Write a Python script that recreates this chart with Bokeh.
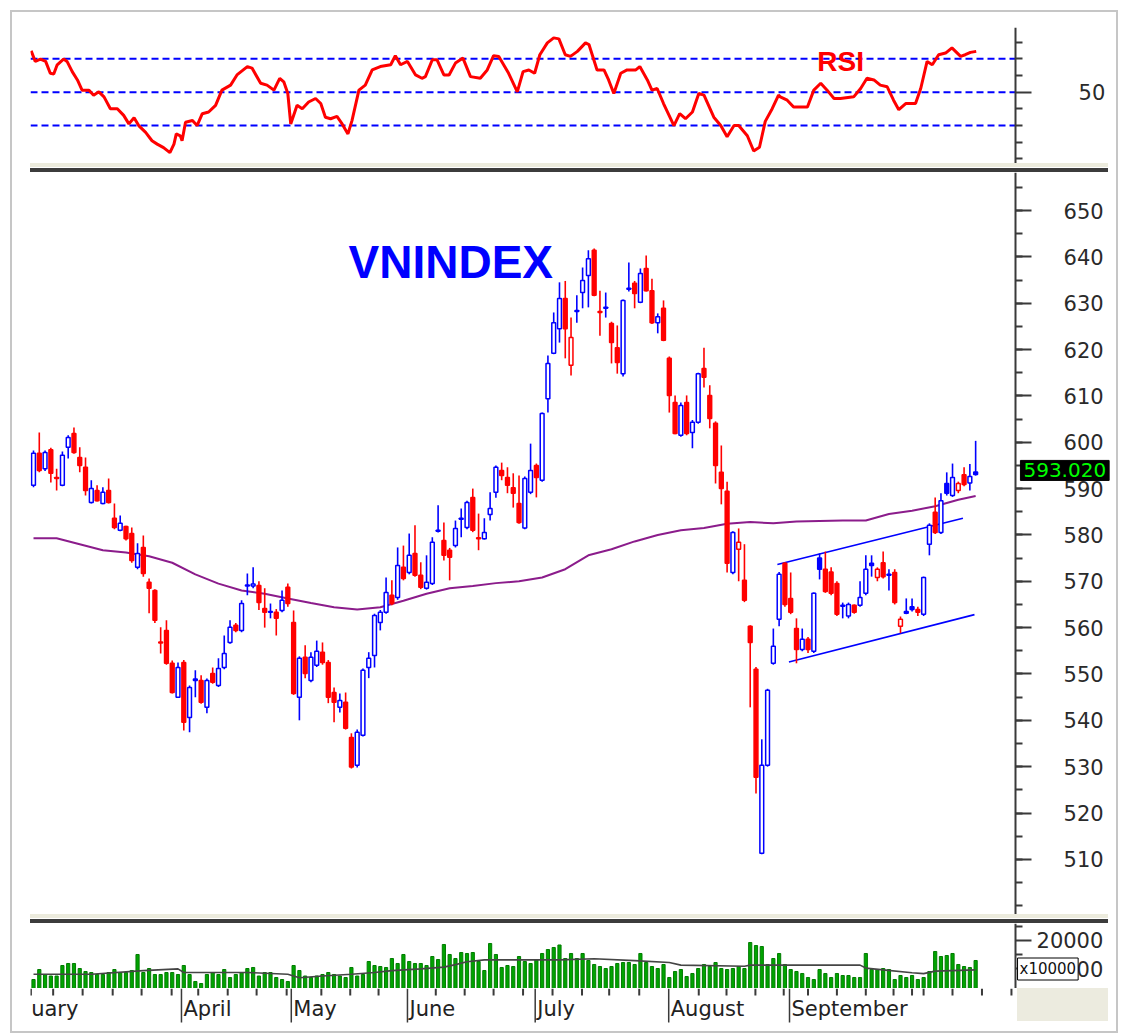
import numpy as np
from bokeh.plotting import figure
from bokeh.models import Range1d, FixedTicker, Label, Div, LinearAxis
from bokeh.layouts import column, row
from bokeh.embed import file_html
from bokeh.resources import INLINE
from bokeh.core.properties import value

# ---------------- data ----------------
opens = [
    590.7, 597.6, 594.3, 598.4, 592.4, 590.7, 598.9, 601.9, 596.7, 594.6,
    587.0, 589.6, 586.8, 589.6, 583.6, 581.0, 581.8, 580.3, 573.0, 577.3,
    569.8, 568.0, 556.9, 559.4, 552.3, 545.0, 552.5, 540.6, 548.6, 548.6,
    542.8, 550.1, 547.5, 551.4, 556.8, 560.5, 559.4, 569.0, 569.0, 569.1,
    564.1, 563.3, 563.3, 563.7, 568.7, 561.1, 545.0, 553.6, 548.6, 551.9,
    554.7, 552.5, 546.0, 542.8, 543.9, 536.3, 530.3, 536.8, 551.4, 554.0,
    561.1, 563.3, 567.0, 566.5, 573.0, 571.9, 576.0, 571.3, 568.5, 569.5,
    580.8, 578.8, 576.7, 577.7, 583.4, 581.6, 588.1, 579.4, 579.2, 584.4,
    589.2, 593.9, 592.4, 590.2, 586.8, 581.5, 589.2, 595.0, 591.8, 609.4,
    619.2, 624.5, 631.0, 616.6, 628.2, 632.3, 636.0, 641.4, 628.2, 628.9,
    625.6, 620.4, 614.8, 633.0, 634.3, 630.2, 637.5, 632.7, 625.8, 628.9,
    618.1, 608.6, 601.5, 608.6, 602.1, 604.3, 615.9, 610.1, 604.1, 593.5,
    589.4, 571.9, 576.9, 570.2, 560.3, 551.0, 511.3, 530.3, 552.3, 561.8,
    573.9, 566.3, 559.8, 555.3, 557.5, 554.9, 575.0, 572.6, 572.0, 569.5,
    564.6, 562.5, 564.8, 564.8, 567.4, 573.9, 570.8, 574.0, 571.3, 571.9,
    560.3, 563.5, 564.5, 563.9, 562.9, 578.0, 584.9, 580.5, 591.1, 588.5,
    589.6, 593.0, 591.2, 593.6]
highs = [
    598.2, 602.1, 598.2, 598.8, 594.3, 598.0, 601.5, 603.2, 598.9, 596.7,
    591.8, 590.7, 590.3, 592.2, 586.8, 584.2, 582.0, 581.6, 578.2, 579.9,
    570.6, 568.3, 560.1, 561.6, 552.9, 552.5, 553.0, 547.5, 550.8, 549.7,
    549.0, 551.4, 553.4, 558.3, 561.6, 561.0, 565.9, 571.7, 573.0, 570.0,
    568.5, 565.2, 564.0, 568.0, 569.5, 563.7, 553.8, 556.2, 554.7, 557.2,
    556.8, 553.0, 547.1, 545.8, 546.0, 537.2, 538.0, 551.2, 554.7, 563.0,
    563.8, 570.8, 570.2, 577.3, 577.7, 580.3, 582.1, 574.1, 575.6, 579.5,
    586.4, 582.7, 577.2, 583.1, 585.7, 587.4, 590.0, 584.6, 583.6, 589.2,
    595.0, 595.6, 594.6, 593.3, 592.8, 592.6, 599.7, 595.4, 606.4, 618.7,
    628.0, 634.5, 634.8, 626.9, 631.7, 637.7, 641.4, 641.8, 632.7, 632.3,
    626.0, 625.2, 630.8, 638.8, 634.8, 637.5, 640.3, 635.3, 627.8, 630.6,
    618.5, 610.1, 608.6, 610.1, 604.8, 615.0, 620.4, 612.3, 604.5, 599.3,
    591.5, 580.8, 581.4, 578.0, 560.5, 551.5, 535.9, 546.8, 559.8, 572.0,
    574.1, 571.9, 562.0, 559.8, 558.0, 567.6, 576.0, 576.4, 573.0, 570.0,
    565.4, 565.4, 565.0, 570.0, 575.6, 575.6, 573.0, 576.4, 572.6, 572.6,
    562.4, 566.3, 566.3, 564.5, 571.0, 582.5, 588.1, 589.0, 593.5, 595.4,
    591.5, 594.6, 595.3, 600.3]
lows = [
    590.3, 593.5, 593.8, 591.3, 589.6, 590.5, 596.5, 597.5, 593.5, 588.5,
    586.8, 587.2, 586.6, 586.8, 581.2, 580.8, 578.8, 574.0, 572.6, 571.0,
    563.1, 561.0, 554.4, 552.0, 545.8, 544.8, 537.8, 537.4, 545.0, 543.6,
    541.5, 547.9, 547.2, 551.0, 556.5, 559.0, 559.0, 567.0, 568.5, 563.8,
    560.0, 562.0, 558.3, 563.3, 564.5, 545.5, 540.0, 549.1, 548.2, 551.5,
    552.0, 543.7, 539.6, 541.7, 538.0, 529.6, 529.8, 536.5, 549.1, 551.4,
    559.4, 563.0, 564.8, 566.0, 570.2, 571.5, 571.0, 568.3, 568.2, 569.2,
    580.5, 574.5, 570.2, 577.3, 579.5, 581.2, 580.6, 576.7, 579.0, 583.1,
    588.0, 591.8, 589.0, 585.9, 582.4, 581.2, 588.8, 588.1, 591.5, 606.4,
    619.0, 621.5, 618.1, 614.4, 625.8, 628.9, 629.1, 631.5, 623.0, 626.9,
    617.0, 614.8, 614.2, 632.5, 628.9, 630.0, 632.5, 625.5, 623.5, 621.8,
    606.4, 601.7, 601.2, 601.5, 598.7, 604.0, 611.8, 603.0, 591.1, 586.6,
    571.9, 571.5, 570.0, 565.5, 542.8, 524.2, 511.1, 530.0, 552.0, 560.3,
    564.5, 562.9, 552.3, 554.9, 554.5, 554.5, 570.4, 567.5, 567.0, 562.5,
    562.0, 562.0, 563.0, 564.5, 567.0, 571.0, 570.0, 570.6, 568.0, 565.0,
    558.8, 562.9, 563.5, 562.5, 562.5, 575.6, 580.2, 580.2, 588.5, 588.2,
    589.0, 590.5, 589.6, 592.8]
closes = [
    597.6, 593.9, 597.8, 593.3, 592.2, 597.2, 601.0, 597.8, 595.0, 589.6,
    590.0, 587.4, 589.2, 587.0, 581.6, 582.5, 579.2, 574.5, 576.0, 571.7,
    568.5, 561.6, 556.7, 552.3, 546.0, 551.4, 539.6, 547.1, 548.9, 543.9,
    548.6, 548.2, 551.2, 554.4, 560.1, 559.4, 565.2, 569.2, 569.4, 565.4,
    563.3, 563.5, 562.0, 565.9, 565.2, 545.8, 553.4, 550.1, 553.6, 554.9,
    552.5, 545.0, 543.9, 544.3, 538.3, 529.9, 537.4, 550.8, 553.4, 562.6,
    563.3, 567.6, 565.2, 573.4, 570.6, 575.6, 571.3, 568.7, 569.8, 578.4,
    581.0, 575.6, 575.2, 581.4, 583.6, 587.0, 581.0, 579.2, 580.5, 585.7,
    594.6, 592.8, 590.7, 589.0, 582.7, 592.2, 593.9, 592.4, 606.2, 617.0,
    625.8, 631.0, 624.5, 622.6, 628.4, 634.9, 639.6, 631.7, 628.0, 629.1,
    621.5, 617.2, 630.6, 633.2, 632.1, 636.4, 632.7, 625.8, 627.1, 622.0,
    610.1, 601.9, 607.9, 601.9, 604.3, 614.8, 614.0, 605.1, 595.0, 590.0,
    573.9, 580.5, 578.4, 565.9, 556.8, 527.7, 530.3, 546.5, 556.0, 571.5,
    565.0, 563.3, 555.3, 557.5, 555.3, 567.4, 572.6, 567.8, 567.4, 562.9,
    564.8, 565.0, 563.3, 566.5, 572.6, 573.4, 572.6, 571.0, 571.5, 565.4,
    561.8, 563.1, 563.9, 563.3, 570.8, 582.1, 580.5, 587.4, 589.0, 592.4,
    591.1, 590.9, 592.6, 593.02]
# volume, in units of 10000 shares as labelled on the axis
volumes = [
    6070, 9640, 7860, 7320, 7320, 11070, 11790, 11790, 10000, 8930,
    8570, 7860, 7860, 8570, 9640, 8570, 8570, 9290, 15000, 8570,
    10000, 7860, 7860, 8570, 8570, 7860, 11070, 7860, 5360, 4650,
    7860, 8570, 7860, 9640, 6790, 7860, 8570, 10000, 10360, 7320,
    8570, 8570, 6790, 6070, 5360, 11070, 9290, 7320, 6790, 7320,
    7860, 8570, 7860, 7320, 6790, 10360, 7320, 7860, 12500, 11070,
    10710, 10360, 13570, 11790, 15000, 12500, 11790, 11790, 11070, 14280,
    13210, 18570, 15000, 13570, 15710, 15360, 15710, 12500, 9290, 18930,
    15000, 10360, 11070, 10710, 14280, 12500, 11790, 13210, 15360, 16780,
    17500, 18390, 13570, 15360, 13570, 15360, 12860, 11430, 10710, 10000,
    10710, 11790, 12140, 12140, 11430, 15360, 12140, 10710, 10000, 11430,
    6790, 8930, 9640, 7140, 8220, 10000, 11430, 10710, 12140, 10000,
    9640, 10000, 10710, 10000, 19280, 18210, 17850, 11430, 13570, 15360,
    11430, 9640, 8930, 8220, 6790, 6070, 9640, 8220, 6790, 8220,
    7500, 7500, 6790, 6790, 15360, 9640, 9640, 10000, 9640, 6070,
    7500, 6790, 7500, 6070, 6790, 8930, 16070, 14280, 14640, 15360,
    11430, 10710, 10360, 12860]

# moving average of the index (purple), read at every 4th session
ma_idx = [0, 4, 8, 12, 16, 20, 24, 28, 32, 36, 40, 44, 48, 52, 56, 60, 64, 68, 72, 76,
          80, 84, 88, 92, 96, 100, 104, 108, 112, 116, 120, 124, 128, 132, 136, 140,
          144, 148, 152, 156, 160, 163]
ma_val = [579.3, 579.3, 578.0, 576.7, 576.2, 575.4, 574.0, 571.5, 569.5, 568.0, 567.3,
          566.3, 565.3, 564.4, 563.9, 564.4, 565.8, 567.3, 568.5, 569.0, 569.6, 570.0,
          570.8, 572.6, 575.6, 576.9, 578.6, 580.0, 581.0, 581.5, 582.4, 582.8, 582.5,
          582.9, 583.0, 583.1, 583.1, 584.5, 585.2, 586.2, 587.6, 588.4]

# volume moving average (dark grey)
vma_idx = [0, 10, 19, 25, 26, 37, 44, 46, 50, 55, 59, 62, 67, 71, 73, 75, 78, 91, 97,
           104, 110, 112, 123, 124, 143, 144, 147, 152, 154, 156, 163]
vma_val = [7970, 7970, 9250, 9860, 8570, 8570, 7970, 6680, 7330, 7970, 8570, 9250,
           9860, 10500, 11390, 12430, 13070, 13070, 13460, 12820, 12150, 11210, 10820,
           11210, 11210, 10150, 9500, 8500, 8180, 9070, 9500]

# RSI line
rsi_idx = [-0.4, 0.3, 1.2, 2.1, 2.9, 3.5, 4.1, 5.2, 5.8, 6.7,
           7.6, 8.4, 9.6, 10.4, 11.3, 12.2, 13.3, 14.5, 15.6, 16.5,
           17.4, 18.2, 19.4, 20.5, 21.4, 22.5, 23.6, 24.3, 24.7, 25.4,
           25.7, 26.3, 27.5, 28.3, 29.2, 30.3, 31.5, 32.6, 34.1, 35.2,
           37.0, 37.8, 39.3, 40.4, 41.6, 42.6, 43.3, 44.0, 44.5, 45.6,
           46.5, 47.6, 48.8, 49.7, 50.5, 51.4, 52.5, 53.4, 54.4, 55.1,
           56.3, 57.4, 58.6, 60.0, 61.8, 62.6, 63.5, 64.7, 66.1, 67.2,
           67.8, 69.0, 69.8, 71.0, 71.9, 73.0, 74.3, 75.6, 77.3, 78.5,
           79.6, 80.5, 82.2, 83.7, 84.7, 85.7, 86.7, 87.6, 88.9, 90.0,
           90.9, 92.0, 92.9, 94.1, 95.5, 96.1, 97.5, 98.7, 99.5, 100.4,
           101.6, 102.7, 104.2, 104.9, 106.2, 107.0, 107.9, 109.0, 110.8, 111.8,
           112.8, 114.0, 115.1, 116.0, 117.7, 118.9, 120.0, 121.2, 122.0, 123.5,
           124.6, 125.6, 126.6, 127.8, 128.9, 129.2, 130.4, 131.5, 133.9, 135.0,
           136.2, 137.3, 138.5, 139.6, 141.9, 143.1, 144.2, 145.4, 146.5, 147.7,
           148.8, 149.7, 150.9, 152.6, 153.5, 154.6, 155.5, 156.6, 157.8, 158.9,
           160.4, 161.2, 162.1, 163.1]
rsi_val = [74.7, 68.4, 69.8, 68.4, 61.3, 60.9, 66.4, 69.8, 68.4, 62.3,
           57.3, 51.2, 51.2, 48.2, 50.2, 47.2, 40.1, 40.1, 36.1, 31.0,
           34.7, 30.0, 25.9, 20.9, 18.9, 16.8, 13.8, 18.9, 25.0, 23.9,
           20.9, 32.0, 33.0, 30.0, 37.1, 38.1, 42.1, 51.2, 54.2, 60.3,
           65.3, 64.4, 55.3, 54.2, 51.2, 58.3, 56.2, 49.2, 31.0, 42.1,
           40.1, 44.1, 46.2, 43.2, 35.0, 34.1, 35.5, 31.0, 25.0, 33.0,
           51.2, 54.2, 63.3, 65.3, 66.4, 71.8, 66.4, 68.4, 60.3, 58.3,
           59.3, 69.4, 69.4, 60.3, 60.3, 67.4, 70.4, 59.3, 58.3, 63.3,
           71.8, 71.4, 61.3, 50.2, 62.3, 63.3, 61.3, 72.4, 79.5, 82.5,
           81.9, 72.4, 71.4, 74.4, 79.5, 78.5, 63.3, 63.3, 57.3, 49.2,
           61.3, 63.3, 63.3, 65.3, 57.3, 51.2, 52.2, 43.2, 30.0, 37.1,
           34.1, 38.1, 49.2, 48.2, 35.0, 30.0, 23.3, 30.0, 30.0, 23.9,
           14.8, 17.0, 32.5, 40.1, 48.2, 47.2, 45.2, 41.1, 41.1, 51.2,
           55.3, 51.2, 46.2, 46.2, 47.2, 52.2, 58.3, 57.3, 54.2, 53.2,
           45.2, 39.5, 43.2, 43.2, 52.2, 68.4, 66.4, 72.4, 73.4, 76.5,
           71.4, 72.4, 73.8, 74.4]
rsi_levels = [70, 50, 30]

# trend channel (blue lines)
chan_x0 = [128.7, 130.7]
chan_y0 = [573.6, 552.6]
chan_x1 = [160.8, 162.8]
chan_y1 = [583.6, 562.8]

# time axis: weekly ticks and month starts (session index)
week_ticks = [-0.45, 3.4, 8.5, 13.7, 18.7, 23.9, 28.5, 33.6, 38.6, 43.8, 49.8, 54.8,
              59.7, 69.6, 74.6, 79.6, 84.7, 89.8, 94.9, 99.6, 104.8, 115.1, 119.9,
              124.9, 129.8, 134.0, 139.0, 144.0, 148.8, 152.0, 154.0, 159.0, 164.1, 169.2]
month_names = ["uary", "April", "May", "June", "July", "August", "September"]
month_starts = [-0.75, 25.6, 44.6, 64.7, 86.8, 109.9, 130.8]

price_ticks = list(range(510, 660, 10))
price_minor = list(range(500, 660, 5))

# ---------------- derived ----------------
o = np.array(opens); h = np.array(highs); l = np.array(lows); c = np.array(closes)
n = len(c)
idx = np.arange(n)
prev = np.r_[o[0], c[:-1]]
up = c >= prev
col = np.where(up, "#0000ff", "#ff0000")
fill = np.where(c > o, "#ffffff", col)
btop = np.maximum(o, c)
bbot = np.minimum(o, c)

BLUE = "#0000ff"
RED = "#ff0000"
AXC = "#3a3a3a"
FONT = "DejaVu Sans"
W = 1104
X0 = -0.52          # left edge of the plotting area
XAX = 169.9         # session position where the value axis stands
X1 = 187.37         # right edge of the figure (room for the tick labels)

xr = Range1d(X0, X1)
xr_strip = Range1d(X0, XAX)


def add_value_axis(p, ticks, minor, standoff):
    ax = LinearAxis(fixed_location=XAX, ticker=FixedTicker(ticks=ticks, minor_ticks=minor))
    ax.axis_line_width = 2
    ax.axis_line_color = AXC
    ax.major_tick_out = 16
    ax.major_tick_in = 0
    ax.minor_tick_out = 7
    ax.minor_tick_in = 0
    ax.major_tick_line_width = 2
    ax.minor_tick_line_width = 2
    ax.major_tick_line_color = AXC
    ax.minor_tick_line_color = AXC
    ax.major_label_text_font = FONT
    ax.major_label_text_font_size = "21px"
    ax.major_label_text_color = "#2a2a2a"
    ax.major_label_standoff = standoff
    p.add_layout(ax, "right")
    return ax


def make_fig(height, yr, top=0, width=W, x_range=xr):
    p = figure(width=width, height=height, x_range=x_range, y_range=yr,
               output_backend="svg", toolbar_location=None,
               x_axis_location=None, y_axis_location=None,
               min_border_left=18, min_border_right=0,
               min_border_top=top, min_border_bottom=0)
    p.xgrid.visible = False
    p.ygrid.visible = False
    p.outline_line_color = None
    p.background_fill_color = "white"
    p.border_fill_color = "white"
    return p


# ---------------- RSI panel ----------------
rsi = make_fig(151, Range1d(7.3, 88.7), top=15)
rsi.segment(x0=[X0] * 3, y0=rsi_levels, x1=[XAX] * 3, y1=rsi_levels,
            line_color=BLUE, line_width=2, line_dash="7 4")
rsi.line(rsi_idx, rsi_val, line_color=RED, line_width=3)
rsi.add_layout(Label(x=135.6, y=68.2, text="RSI", text_color=RED,
                     text_font="Liberation Sans", text_font_style="bold",
                     text_font_size="28px", text_baseline="alphabetic"))
add_value_axis(rsi, [50], [10, 20, 30, 40, 60, 70, 80], 47)

# ---------------- price panel ----------------
main = make_fig(742, Range1d(498.1, 658.2))
main.line(ma_idx, ma_val, line_color="#8b1c8b", line_width=2)
main.segment(x0=chan_x0, y0=chan_y0, x1=chan_x1, y1=chan_y1, line_color=BLUE, line_width=1.6)
main.segment(x0=idx, y0=l, x1=idx, y1=h, line_color=col, line_width=1.6)
main.vbar(x=idx, top=btop, bottom=bbot, width=0.66, fill_color=fill,
          line_color=col, line_width=1.5)
main.add_layout(Label(x=54.5, y=638.8, text="VNINDEX", text_color=BLUE,
                      text_font="Liberation Sans", text_font_style="bold",
                      text_font_size="46px", text_baseline="alphabetic"))
add_value_axis(main, price_ticks, price_minor, 32)
main.add_layout(Label(x=XAX + 0.85, y=closes[-1] + 0.9, text="%.3f" % closes[-1],
                      text_color="#00ff00", text_font=FONT, text_font_size="20px",
                      text_baseline="middle", background_fill_color="#000000",
                      border_line_color="#000000", padding=3))

# ---------------- volume panel ----------------
vol = make_fig(65, Range1d(2860, 26065))
vol.vbar(x=idx, top=volumes, bottom=0, width=0.55, fill_color="#00a400",
         line_color="#007c00", line_width=1)
vol.line(vma_idx, vma_val, line_color="#454545", line_width=1.6)
add_value_axis(vol, [10000, 20000], [15000, 25000], 5)
vol.add_layout(Label(x=XAX + 0.35, y=9820, text="x10000", text_color="#111111",
                     text_font=FONT, text_font_size="15px", text_baseline="middle",
                     background_fill_color="#ffffff", border_line_color="#000000",
                     border_line_width=1, padding=2))

# ---------------- time strip ----------------
strip = make_fig(43, Range1d(0, 43), width=1003, x_range=xr_strip)
strip.segment(x0=week_ticks, y0=[43] * len(week_ticks), x1=week_ticks,
              y1=[36] * len(week_ticks), line_color=AXC, line_width=2)
strip.segment(x0=month_starts, y0=[43] * len(month_starts), x1=month_starts,
              y1=[9] * len(month_starts), line_color=AXC, line_width=1.5)
strip.text(x=[m + 0.35 for m in month_starts], y=[23] * len(month_starts),
           text=month_names, text_font=value(FONT), text_font_size=value("21px"),
           text_color="#222222", text_baseline="middle", text_align="left")


def sep(height, dark_from):
    bg = ("linear-gradient(to right, #ffffff 18px, rgba(255,255,255,0) 18px), "
          "linear-gradient(to bottom, #ecebdd 0px, #ecebdd %dpx, #ffffff %dpx, #ffffff %dpx, "
          "#3c3c3c %dpx, #3c3c3c %dpx)" % (dark_from - 1, dark_from - 1, dark_from,
                                           dark_from, height))
    return Div(text="", width=1096, height=height, margin=0, styles={"background": bg})


sep1 = sep(9, 5)
sep2 = sep(9, 5)
beige = Div(text='<div style="margin:0 0 0 2px;width:91px;height:33px;background:#ecebdf;"></div>',
            width=101, height=43, margin=0)

layout = column(rsi, sep1, main, sep2, vol, row(strip, beige, spacing=0), spacing=0,
                styles={"margin": "10px 0 0 10px", "border": "2px solid #c6c6c6"})

open("out.html", "w").write(file_html(layout, INLINE))
